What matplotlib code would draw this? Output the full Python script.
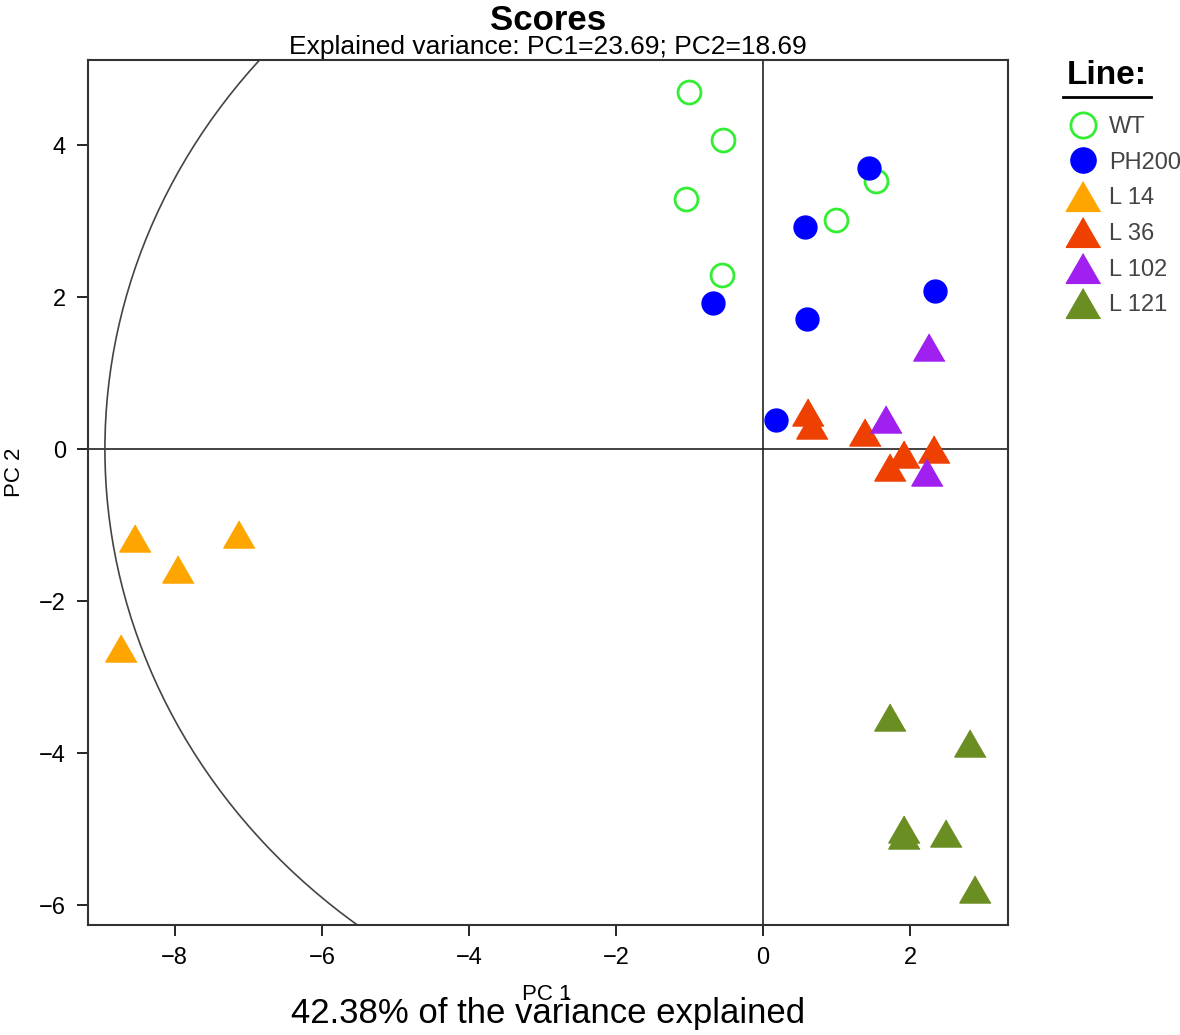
import matplotlib
matplotlib.use('Agg')
import matplotlib.pyplot as plt
from matplotlib.patches import Ellipse
from matplotlib.lines import Line2D

plt.rcParams['font.family'] = ['Liberation Sans', 'DejaVu Sans']

# scores per line (PC1, PC2)
wt_x = [-1.01, -0.54, -1.05, -0.56, 0.99, 1.54]
wt_y = [4.70, 4.07, 3.29, 2.29, 3.01, 3.53]
ph_x = [1.44, 0.57, 2.34, -0.68, 0.60, 0.18]
ph_y = [3.70, 2.92, 2.08, 1.92, 1.71, 0.39]
l14_x = [-8.54, -7.12, -7.95, -8.73]
l14_y = [-1.17, -1.11, -1.58, -2.62]
l36_x = [0.61, 0.66, 1.39, 1.92, 2.33, 1.72]
l36_y = [0.49, 0.32, 0.22, -0.07, 0.00, -0.23]
l102_x = [2.26, 1.67, 2.23]
l102_y = [1.35, 0.40, -0.30]
l121_x = [1.72, 2.81, 1.91, 1.92, 2.49, 2.88]
l121_y = [-3.53, -3.86, -5.00, -5.08, -5.05, -5.78]

# hotelling ellipse semi-axes
ell_a = 8.95
ell_b = 7.95

x_ticks = [-8, -6, -4, -2, 0, 2]
y_ticks = [-6, -4, -2, 0, 2, 4]

tri = [(0, 0.866), (-1, -0.866), (1, -0.866)]

fig = plt.figure(figsize=(11.8, 10.35), dpi=100)
ax = fig.add_axes([88/1180, 1-925/1035, 920/1180, 865/1035])

ax.axhline(0, color='#222222', lw=1.2, zorder=1)
ax.axvline(0, color='#222222', lw=1.2, zorder=1)
ax.add_patch(Ellipse((0, 0), 2*ell_a, 2*ell_b, fill=False, ec='#444444', lw=1.2, zorder=1))

ax.plot(wt_x, wt_y, 'o', ms=16.5, mfc='none', mec='#33ee33', mew=2, ls='none', label='WT')
ax.plot(ph_x, ph_y, 'o', ms=16.5, mfc='#0000ff', mec='#0000ff', ls='none', label='PH200')
ax.plot(l14_x, l14_y, marker=tri, ms=22.5, color='#ffa500', ls='none', label='L 14')
ax.plot(l36_x, l36_y, marker=tri, ms=22.5, color='#ee4000', ls='none', label='L 36')
ax.plot(l102_x, l102_y, marker=tri, ms=22.5, color='#a020f0', ls='none', label='L 102')
ax.plot(l121_x, l121_y, marker=tri, ms=22.5, color='#6b8e23', ls='none', label='L 121')

ax.set_xlim(-9.18, 3.33)
ax.set_ylim(-6.26, 5.12)
ax.set_xticks(x_ticks)
ax.set_yticks(y_ticks)
ax.tick_params(direction='out', length=8, width=1.2, labelsize=17, pad=8)
for s in ax.spines.values():
    s.set_linewidth(1.5)
    s.set_color('#333333')

fig.text(548/1180, 1-20/1035, 'Scores', ha='center', va='center', fontsize=25, fontweight='bold')
fig.text(548/1180, 1-47/1035, 'Explained variance: PC1=23.69; PC2=18.69', ha='center', va='center', fontsize=19)
fig.text(547/1180, 1-995/1035, 'PC 1', ha='center', va='center', fontsize=16)
fig.text(548/1180, 1-1013/1035, '42.38% of the variance explained', ha='center', va='center', fontsize=25)
fig.text(14/1180, 1-472/1035, 'PC 2', ha='center', va='center', fontsize=16, rotation=90)

# legend
fig.text(1107/1180, 1-76/1035, 'Line:', ha='center', va='center', fontsize=24, fontweight='bold')
fig.add_artist(Line2D([1063/1180, 1151/1180], [1-97/1035, 1-97/1035], color='black', lw=2))
leg = fig.legend(loc='upper left', bbox_to_anchor=(1069/1180, 1-116/1035), frameon=False,
                 fontsize=17, labelspacing=0.58, handlelength=1.2, handletextpad=0.5,
                 markerscale=1.1, borderaxespad=0, borderpad=0)
for t in leg.get_texts():
    t.set_color('#444444')

fig.savefig('out.png', dpi=100)
